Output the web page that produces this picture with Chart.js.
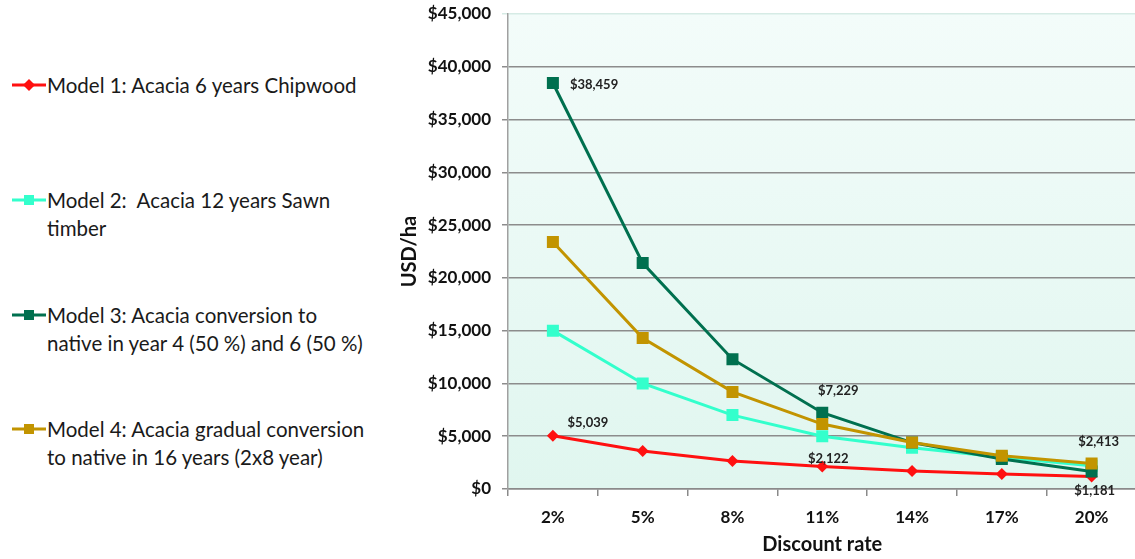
<!DOCTYPE html>
<html>
<head>
<meta charset="utf-8">
<script src="https://cdn.jsdelivr.net/npm/chart.js@4"></script>
<style>
  html, body { margin: 0; padding: 0; background: #fff; overflow: hidden; }
  body { width: 1135px; height: 559px; position: relative; font-family: Lato, "Open Sans", sans-serif; }
  #chartBox { position: absolute; left: 395px; top: 0; width: 750px; height: 559px; }
  .legend-item { position: absolute; left: 12px; font-size: 20.5px; line-height: 28px; color: #1a1a1a; }
  .legend-item .txt { position: absolute; left: 35px; top: 0; width: 380px; white-space: nowrap; }
  .legend-item svg { position: absolute; left: 0; top: 7px; }
</style>
</head>
<body>
<div id="legend"></div>
<div id="chartBox"><canvas id="npvChart" width="750" height="559"></canvas></div>
<script>
const rates = ['2%', '5%', '8%', '11%', '14%', '17%', '20%'];
const yTicks = [0, 5000, 10000, 15000, 20000, 25000, 30000, 35000, 40000, 45000];

const model1 = [5039, 3600, 2650, 2122, 1700, 1420, 1181];
const model2 = [15000, 10000, 7000, 5000, 3900, 3000, 2200];
const model3 = [38459, 21400, 12300, 7229, 4400, 2850, 1650];
const model4 = [23400, 14300, 9200, 6150, 4400, 3150, 2413];

const names = [
    'Model 1: Acacia 6 years Chipwood',
    'Model 2:&nbsp; Acacia 12 years Sawn<br>timber',
    'Model 3: Acacia conversion to<br>native in year 4 (50 %) and 6 (50 %)',
    'Model 4: Acacia gradual conversion<br>to native in 16 years (2x8 year)'
];
const colors = ['#ff1010', '#33ffcc', '#00704f', '#c29400'];

// legend on the left, built by hand because the text wraps
const legendTops = [71, 186, 301, 415];
const legendEl = document.getElementById('legend');
names.forEach((name, i) => {
    const item = document.createElement('div');
    item.className = 'legend-item';
    item.style.top = legendTops[i] + 'px';
    const marker = i === 0
        ? `<polygon points="17,1 23,7 17,13 11,7" fill="${colors[i]}"/>`
        : `<rect x="12" y="2" width="10" height="10" fill="${colors[i]}"/>`;
    item.innerHTML = `<svg width="34" height="14"><line x1="0" y1="7" x2="34" y2="7" stroke="${colors[i]}" stroke-width="3"/>${marker}</svg><div class="txt">${name}</div>`;
    legendEl.appendChild(item);
});

const money = v => '$' + v.toLocaleString('en-US');

const plotBackground = {
    id: 'plotBackground',
    beforeDraw(chart) {
        const { ctx, chartArea: a } = chart;
        const g = ctx.createLinearGradient(0, a.top, 0, a.bottom);
        g.addColorStop(0, '#f3fcfa');
        g.addColorStop(1, '#e0f6ef');
        ctx.save();
        ctx.fillStyle = g;
        ctx.fillRect(a.left, a.top, a.right - a.left, a.bottom - a.top);
        ctx.restore();
    }
};

// value labels: [dataset, index, dx, dy, align]
const callouts = [
    [2, 0, 17, 2, 'left'],
    [0, 0, 35, -13, 'center'],
    [2, 3, 16, -22, 'center'],
    [0, 3, 6, -8, 'center'],
    [3, 6, 7, -22, 'center'],
    [0, 6, 3, 14, 'center']
];
const valueLabels = {
    id: 'valueLabels',
    afterDatasetsDraw(chart) {
        const ctx = chart.ctx;
        ctx.save();
        ctx.font = 'bold 13px Lato, sans-serif';
        ctx.fillStyle = '#222';
        ctx.textBaseline = 'middle';
        callouts.forEach(([ds, idx, dx, dy, align]) => {
            const pt = chart.getDatasetMeta(ds).data[idx];
            ctx.textAlign = align;
            ctx.fillText(money(chart.data.datasets[ds].data[idx]), pt.x + dx, pt.y + dy);
        });
        ctx.restore();
    }
};

const series = [model1, model2, model3, model4];
const drawOrder = [3, 2, 1, 0];

new Chart(document.getElementById('npvChart'), {
    type: 'line',
    data: {
        labels: rates,
        datasets: series.map((data, i) => ({
            label: names[i],
            data: data,
            borderColor: colors[i],
            backgroundColor: colors[i],
            borderWidth: 3,
            pointStyle: i === 0 ? 'rectRot' : 'rect',
            pointRadius: i === 0 ? 6 : 8.5,
            pointBorderWidth: 0,
            tension: 0,
            order: drawOrder[i]
        }))
    },
    options: {
        responsive: false,
        animation: false,
        layout: { padding: { top: 14, bottom: 0, right: 5, left: 3 } },
        plugins: { legend: { display: false }, tooltip: { enabled: false } },
        scales: {
            x: {
                offset: true,
                grid: { offset: true, drawOnChartArea: false, tickLength: 7, color: '#8a8a8a', lineWidth: 1.5 },
                border: { color: '#8a8a8a', width: 1.5 },
                ticks: { color: '#111', padding: 11, font: { family: 'Lato', size: 17, weight: 'bold' } },
                title: { display: true, text: 'Discount rate', color: '#111', padding: { top: 2, bottom: 2 }, font: { family: 'Lato', size: 20, weight: 'bold' } },
                afterFit(scale) { scale.height = 70; }
            },
            y: {
                min: 0,
                max: 45000,
                afterBuildTicks(scale) { scale.ticks = yTicks.map(v => ({ value: v })); },
                grid: {
                    color: ctx => ctx.tick && ctx.tick.value === 45000 ? '#d6ebe5' : '#8c8c8c',
                    lineWidth: 1.5,
                    tickLength: 6
                },
                border: { color: '#a0a0a0', width: 1.5 },
                ticks: { color: '#111', padding: 11, font: { family: 'Lato', size: 17, weight: 'bold' }, callback: v => money(v) },
                title: { display: true, text: 'USD/ha', color: '#111', padding: 0, font: { family: 'Lato', size: 20, weight: 'bold' } },
                afterFit(scale) {
                    scale.width = 110;
                    scale.paddingTop = 0;
                    scale.paddingBottom = 0;
                }
            }
        }
    },
    plugins: [plotBackground, valueLabels]
});
</script>
</body>
</html>
